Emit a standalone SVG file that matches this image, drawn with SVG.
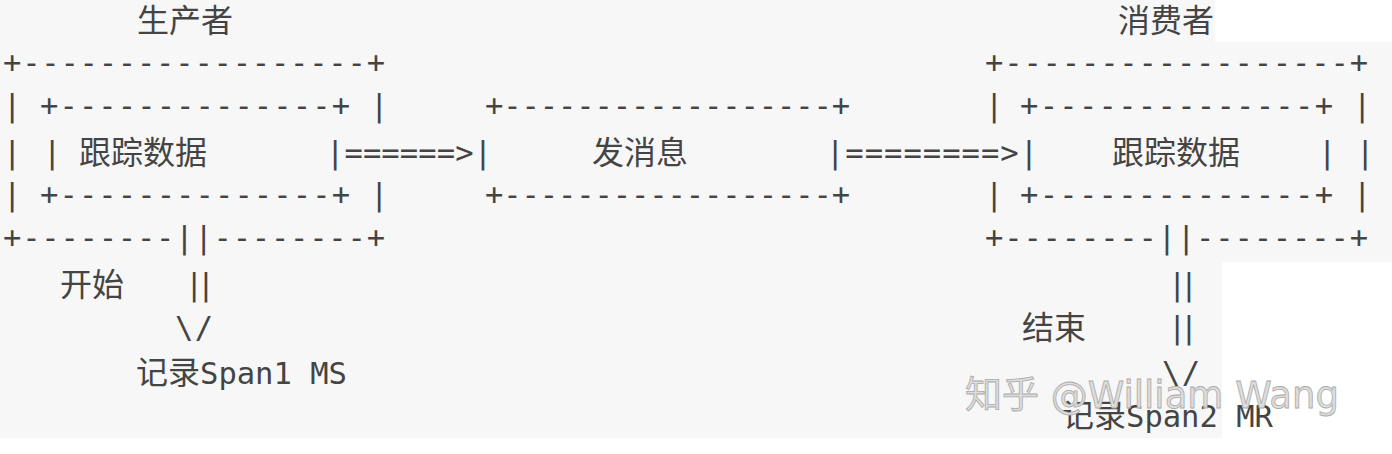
<svg xmlns="http://www.w3.org/2000/svg" width="1392" height="454" viewBox="0 0 1392 454">
<style>
text{font-family:"DejaVu Sans Mono","Liberation Mono","Noto Sans CJK SC",monospace;font-size:30.5px;fill:#444}
.c{font-family:"Noto Sans CJK SC","DejaVu Sans",sans-serif;font-size:32px}
.w{font-family:"DejaVu Sans","Noto Sans CJK SC",sans-serif;font-size:37px;fill:#ddd;stroke:#aaa;stroke-width:0.8}
</style>
<rect width="1392" height="454" fill="#fff"/>
<rect x="0" y="0" width="1392" height="438" fill="#f7f7f7"/>
<rect x="1215" y="0" width="177" height="42" fill="#fff"/>
<rect x="1222" y="262" width="170" height="176" fill="#fff"/>
<g id="producer">
<text class="c" x="137" y="32">生产者</text>
<text x="3" y="73" textLength="382">+------------------+</text>
<text x="3" y="116">|</text><text x="40" y="116" textLength="310">+--------------+</text><text x="370" y="116">|</text>
<text x="3" y="163">|</text><text x="43" y="163">|</text><text class="c" x="79" y="164">跟踪数据</text>
<text x="3" y="205">|</text><text x="40" y="205" textLength="310">+--------------+</text><text x="370" y="205">|</text>
<text x="3" y="248" textLength="382">+--------||--------+</text>
<text class="c" x="60" y="296">开始</text><text x="185" y="295" textLength="30">||</text>
<text x="175" y="338" textLength="38">\/</text>
<text x="136" y="384"><tspan class="c">记录</tspan>Span1 MS</text>
</g>
<g id="message">
<text x="485" y="116" textLength="365">+------------------+</text>
<text class="c" x="592" y="164">发消息</text>
<text x="485" y="205" textLength="365">+------------------+</text>
</g>
<g id="consumer">
<text class="c" x="1118" y="32">消费者</text>
<text x="985" y="73" textLength="383">+------------------+</text>
<text x="985" y="116">|</text><text x="1020" y="116" textLength="313">+--------------+</text><text x="1353" y="116">|</text>
<text class="c" x="1112" y="164">跟踪数据</text><text x="1318" y="163">|</text><text x="1356" y="163">|</text>
<text x="985" y="205">|</text><text x="1020" y="205" textLength="313">+--------------+</text><text x="1353" y="205">|</text>
<text x="985" y="248" textLength="383">+--------||--------+</text>
<text x="1168" y="295" textLength="30">||</text>
<text class="c" x="1022" y="339">结束</text><text x="1168" y="338" textLength="30">||</text>
<text x="1162" y="383" textLength="38">\/</text>
<text x="1062" y="427"><tspan class="c">记录</tspan>Span2 MR</text>
</g>
<g id="connectors">
<text x="326" y="163" textLength="166">|======&gt;|</text>
<text x="826" y="163" textLength="212">|========&gt;|</text>
</g>
<text class="w" x="965" y="408">知乎 @William Wang</text>
</svg>
